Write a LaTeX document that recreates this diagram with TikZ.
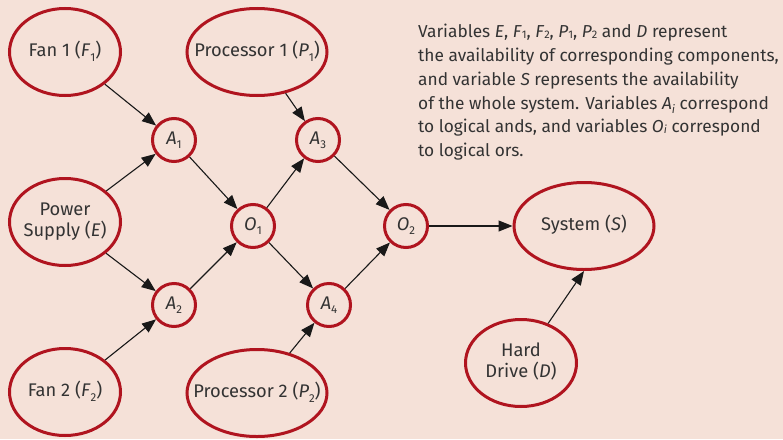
\documentclass[tikz,border=0pt]{standalone}
\usepackage{fontspec}
\setmainfont{Fira Sans}
\usetikzlibrary{shapes.geometric,arrows.meta}
\definecolor{paper}{HTML}{F5E1D8}
\definecolor{rimred}{HTML}{B0141F}
\definecolor{ink}{HTML}{333333}
% lowered index as used inside the nodes
\newcommand\lowsub[1]{\raisebox{-0.45ex}{\fontsize{11.5}{11.5}\selectfont #1}}
% small index as used in the note
\newcommand\notesub[1]{\raisebox{-0.12ex}{\fontsize{11}{11}\selectfont #1}}
% zero-width label so the outline keeps its fixed size
\newcommand\celltext[1]{\makebox[0pt]{\begin{tabular}{@{}c@{}}#1\end{tabular}}}
\begin{document}
\begin{tikzpicture}[x=1pt,y=-1pt,
  every node/.style={text=ink,font=\fontsize{18.3}{19.5}\selectfont},
  part/.style={ellipse,draw=rimred,line width=3pt,inner sep=0pt,
    minimum width=111pt,minimum height=87pt},
  wide/.style={part,minimum width=140pt},
  gate/.style={circle,draw=rimred,line width=3pt,inner sep=0pt,minimum size=43pt},
  link/.style={draw=black!90,line width=1.1pt,-{Triangle[length=14pt,width=11pt]}}]
\useasboundingbox[fill=paper] (0,0) rectangle (783,439);

% components
\node[part] (F1) at (65,52) {\celltext{Fan 1 (\textit{F}\lowsub{1})}};
\node[wide] (P1) at (257,52) {\celltext{Processor 1 (\textit{P}\lowsub{1})}};
\node[part] (E) at (65,222) {\celltext{Power\\Supply (\textit{E})}};
\node[part] (F2) at (65,392) {\celltext{Fan 2 (\textit{F}\lowsub{2})}};
\node[wide] (P2) at (257,393) {\celltext{Processor 2 (\textit{P}\lowsub{2})}};
\node[wide] (S) at (584,226) {\celltext{System (\textit{S})}};
\node[part] (D) at (521,363) {\celltext{Hard\\Drive (\textit{D})}};

% logical gates
\node[gate] (A1) at (174,140) {\textit{A}\lowsub{1}};
\node[gate] (A2) at (174,305) {\textit{A}\lowsub{2}};
\node[gate] (A3) at (318,140) {\textit{A}\lowsub{3}};
\node[gate] (A4) at (329,305) {\textit{A}\lowsub{4}};
\node[gate] (O1) at (253,226) {\textit{O}\lowsub{1}};
\node[gate] (O2) at (406,226) {\textit{O}\lowsub{2}};

% connections
\draw[link] (F1) -- (A1);
\draw[link] (E) -- (A1);
\draw[link] (E) -- (A2);
\draw[link] (F2) -- (A2);
\draw[link] (A1) -- (O1);
\draw[link] (A2) -- (O1);
\draw[link] (O1) -- (A3);
\draw[link] (O1) -- (A4);
\draw[link] (P1) -- (A3);
\draw[link] (P2) -- (A4);
\draw[link] (A3) -- (O2);
\draw[link] (A4) -- (O2);
\draw[link] (O2) -- (S);
\draw[link] (D) -- (S.south);

% explanatory note
\node[anchor=north west,inner sep=0pt,align=left,
  font=\fontsize{17.3}{23.8}\selectfont] (note) at (418,24)
{Variables \textit{E}, \textit{F}\notesub{1}, \textit{F}\notesub{2}, \textit{P}\notesub{1}, \textit{P}\notesub{2} and \textit{D} represent\\
the availability of corresponding components,\\
and variable \textit{S} represents the availability\\
of the whole system. Variables \textit{A}\lowsub{\textit{i}} correspond\\
to logical ands, and variables \textit{O}\notesub{\textit{i}} correspond\\
to logical ors.};
\end{tikzpicture}
\end{document}
